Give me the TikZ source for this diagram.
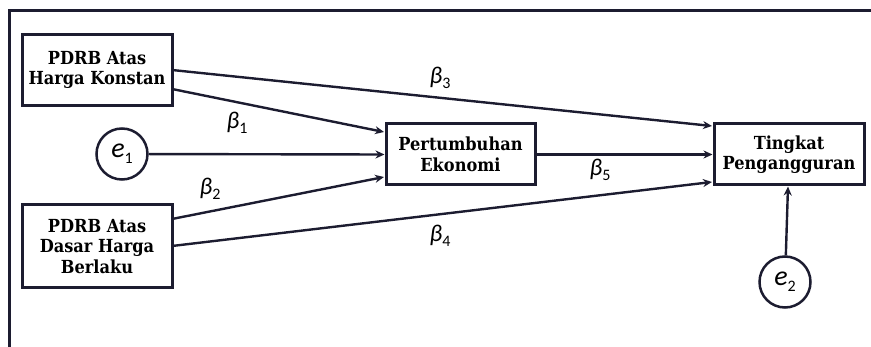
\documentclass[tikz,border=0pt]{standalone}
\usepackage{fontspec}
\setmainfont{DejaVu Serif Condensed}
\newfontfamily\labfont{Carlito}
\usetikzlibrary{arrows.meta}
\definecolor{ink}{RGB}{28,28,48}
\newcommand{\lab}[2]{{\labfont\itshape #1\raisebox{-0.45ex}{\upshape\fontsize{16}{16}\selectfont #2}}}
\begin{document}
\begin{tikzpicture}[x=1pt,y=-1pt,
  box/.style={draw=ink,line width=3pt,minimum height=61pt,align=center,inner sep=0pt,
    font=\bfseries\fontsize{18}{20.5}\selectfont,text=black},
  err/.style={draw=ink,line width=2.5pt,circle,minimum size=51pt,inner sep=0pt,font=\fontsize{28}{28}\selectfont},
  conn/.style={draw=ink,line width=2.4pt,-{Stealth[length=9pt,width=8pt]}},
  beta/.style={font=\fontsize{24}{24}\selectfont}]
\useasboundingbox (0,0) rectangle (871,347);
\draw[ink,line width=3pt] (9,347) -- (9,11) -- (871,11);
\node[box,minimum width=150pt,minimum height=71pt] (k) at (97,70) {PDRB Atas\\Harga Konstan};
\node[box,minimum width=150pt,minimum height=83pt] (b) at (97,246.5) {PDRB Atas\\Dasar Harga\\Berlaku};
\node[box,minimum width=149pt] (p) at (460.5,154.5) {Pertumbuhan\\Ekonomi};
\node[box,minimum width=150pt] (t) at (789,154.5) {Tingkat\\Pengangguran};
\node[err] (e1) at (122,154) {\lab{e}{1}};
\node[err] (e2) at (785,282) {\lab{e}{2}};
\coordinate (k1) at (172,70);
\coordinate (k2) at (172,89);
\coordinate (b1) at (172,219);
\coordinate (b2) at (172,246);
\coordinate (p1) at (384,132);
\coordinate (p3) at (384,177);
\coordinate (t1) at (712,126);
\coordinate (t3) at (712,182);
\draw[conn] (k1) -- (t1);
\draw[conn] (k2) -- (p1);
\draw[conn] (e1) -- (p.west);
\draw[conn] (b1) -- (p3);
\draw[conn] (b2) -- (t3);
\draw[conn] (p) -- (t);
\draw[conn] (e2) -- (t);
\node[beta] (l3) at (440,78) {\lab{β}{3}};
\node[beta] (l1) at (237,123) {\lab{β}{1}};
\node[beta] (l2) at (210,189) {\lab{β}{2}};
\node[beta] (l4) at (440,236) {\lab{β}{4}};
\node[beta] (l5) at (600,170) {\lab{β}{5}};
\end{tikzpicture}
\end{document}
